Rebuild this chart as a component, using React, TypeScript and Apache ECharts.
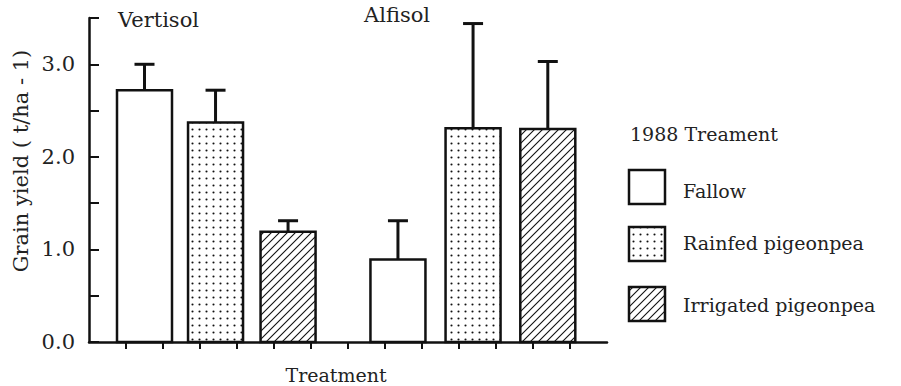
import React, { useEffect, useRef } from 'react';
import * as echarts from 'echarts';

const soils = ['Vertisol', 'Alfisol'];
const treatments = ['Fallow', 'Rainfed pigeonpea', 'Irrigated pigeonpea'];
const legendTitle = '1988 Treament';
const yAxisTitle = 'Grain yield ( t/ha - 1)';
const xAxisTitle = 'Treatment';
const xPositions = [1.5, 3.42, 5.38, 8.35, 10.38, 12.4];
const yields = [2.72, 2.37, 1.19, 0.89, 2.31, 2.3];
const errorTops = [3.0, 2.72, 1.31, 1.31, 3.44, 3.03];
const treatmentIndex = [0, 1, 2, 0, 1, 2];
const yLabelValues = [0, 1, 2, 3];
const xTickValues = [1, 2, 3, 4, 5, 6, 7, 8, 9, 10, 11, 12, 13];

const FONT = 'DejaVu Serif';
const INK = '#111';
const TEXT = '#222';

function makeDots(): HTMLCanvasElement {
  const c = document.createElement('canvas');
  c.width = 7; c.height = 7;
  const ctx = c.getContext('2d')!;
  ctx.fillStyle = '#fff';
  ctx.fillRect(0, 0, 7, 7);
  ctx.fillStyle = '#111';
  ctx.beginPath();
  ctx.arc(3.5, 3.5, 1.05, 0, Math.PI * 2);
  ctx.fill();
  return c;
}

function makeHatch(): HTMLCanvasElement {
  const s = 8;
  const c = document.createElement('canvas');
  c.width = s; c.height = s;
  const ctx = c.getContext('2d')!;
  ctx.fillStyle = '#fff';
  ctx.fillRect(0, 0, s, s);
  ctx.strokeStyle = '#111';
  ctx.lineWidth = 1.1;
  ctx.beginPath();
  ctx.moveTo(-1, s + 1); ctx.lineTo(s + 1, -1);
  ctx.moveTo(-1, 1); ctx.lineTo(1, -1);
  ctx.moveTo(s - 1, s + 1); ctx.lineTo(s + 1, s - 1);
  ctx.stroke();
  return c;
}

export default function App() {
  const ref = useRef<HTMLDivElement>(null);
  useEffect(() => {
    if (!ref.current) return;
    const chart = echarts.init(ref.current, undefined, { renderer: 'svg' });
    const fills: any[] = [
      '#fff',
      { image: makeDots(), repeat: 'repeat' },
      { image: makeHatch(), repeat: 'repeat' },
    ];
    const data = xPositions.map((x, i) => [x, yields[i], errorTops[i], treatmentIndex[i]]);

    const legendItems: any[] = [
      { type: 'text', x: 630, y: 134, style: { text: legendTitle, font: `19px "${FONT}"`, fill: TEXT, verticalAlign: 'middle' } },
    ];
    const rectTops = [170, 227, 287];
    const textYs = [191, 243, 305];
    treatments.forEach((t, i) => {
      legendItems.push({
        type: 'rect', shape: { x: 629, y: rectTops[i], width: 36, height: 34 },
        style: { fill: fills[i], stroke: INK, lineWidth: 2.5 },
      });
      legendItems.push({
        type: 'text', x: 683, y: textYs[i],
        style: { text: t, font: `19px "${FONT}"`, fill: TEXT, verticalAlign: 'middle' },
      });
    });

    chart.setOption({
      animation: false,
      backgroundColor: '#fff',
      grid: { left: 89, right: 294, top: 18, bottom: 44, containLabel: false, outerBoundsMode: 'none' },
      xAxis: {
        type: 'value', min: 0, max: 14, interval: 1,
        name: xAxisTitle, nameLocation: 'middle', nameGap: 23,
        nameTextStyle: { fontFamily: FONT, fontSize: 19, lineHeight: 19, color: TEXT, padding: [0, 24, 0, 0] },
        axisLine: { lineStyle: { color: INK, width: 2.5 } },
        axisTick: { show: true, customValues: xTickValues, length: 7, lineStyle: { color: INK, width: 2 } },
        axisLabel: { show: false },
        splitLine: { show: false },
      },
      yAxis: {
        type: 'value', min: 0, max: 3.5, interval: 0.5,
        axisLine: { show: true, lineStyle: { color: INK, width: 2.5 } },
        axisTick: { show: true, inside: true, length: 10, lineStyle: { color: INK, width: 2 } },
        axisLabel: {
          customValues: yLabelValues, margin: 14,
          formatter: (v: number) => v.toFixed(1),
          fontFamily: FONT, fontSize: 21, color: TEXT,
        },
        splitLine: { show: false },
      },
      series: [{
        type: 'custom',
        data,
        renderItem: (params: any, api: any) => {
          const x = api.value(0), y = api.value(1), e = api.value(2), t = api.value(3);
          const p0 = api.coord([x, 0]);
          const p1 = api.coord([x, y]);
          const pe = api.coord([x, e]);
          const w = 55;
          return {
            type: 'group',
            children: [
              { type: 'line', shape: { x1: p1[0], y1: p1[1], x2: pe[0], y2: pe[1] }, style: { stroke: INK, lineWidth: 3 } },
              { type: 'line', shape: { x1: pe[0] - 10, y1: pe[1], x2: pe[0] + 10, y2: pe[1] }, style: { stroke: INK, lineWidth: 3 } },
              { type: 'rect', shape: { x: p0[0] - w / 2, y: p1[1], width: w, height: p0[1] - p1[1] }, style: { fill: fills[t], stroke: INK, lineWidth: 2.5 } },
            ],
          };
        },
      }],
      graphic: [
        { type: 'text', x: 118, y: 20, style: { text: soils[0], font: `21px "${FONT}"`, fill: TEXT, verticalAlign: 'middle' } },
        { type: 'text', x: 364, y: 15, style: { text: soils[1], font: `21px "${FONT}"`, fill: TEXT, verticalAlign: 'middle' } },
        { type: 'text', x: 21, y: 161, rotation: Math.PI / 2, style: { text: yAxisTitle, font: `21px "${FONT}"`, fill: TEXT, align: 'center', verticalAlign: 'middle' } },
        ...legendItems,
      ],
    });
    return () => chart.dispose();
  }, []);
  return <div ref={ref} style={{ width: 901, height: 386, position: 'absolute', left: 0, top: 0 }} />;
}
